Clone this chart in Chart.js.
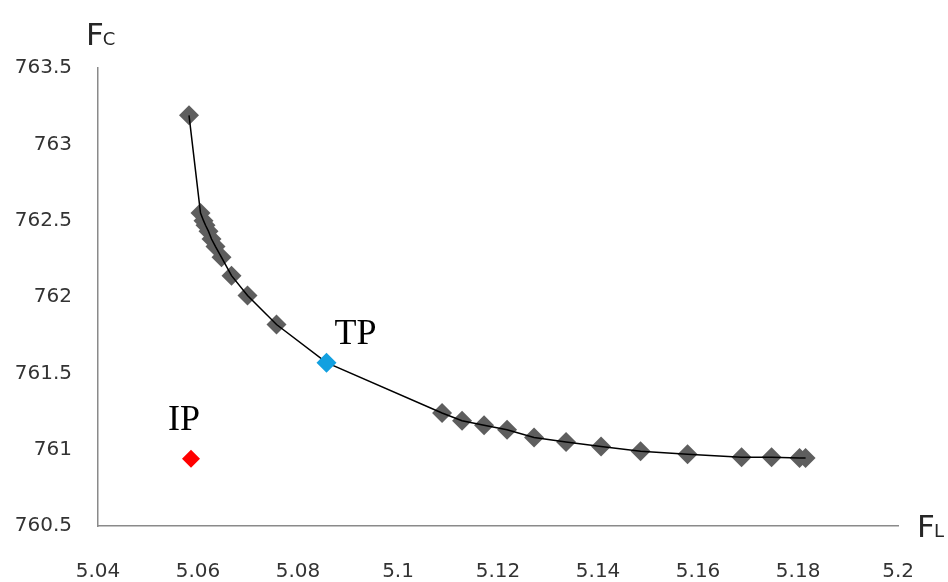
<!DOCTYPE html>
<html>
<head>
<meta charset="utf-8">
<script src="https://cdn.jsdelivr.net/npm/chart.js@4.4.0/dist/chart.umd.min.js"></script>
<style>
html, body { margin: 0; padding: 0; background: #fff; }
#wrap { width: 948px; height: 582px; }
</style>
</head>
<body>
<div id="wrap"><canvas id="chart" width="948" height="582"></canvas></div>
<script>
// Pareto front (F_L, F_C)
const frontL = [5.0582, 5.0605, 5.0611, 5.0615, 5.0621, 5.0627, 5.0635, 5.0647, 5.0667, 5.0699, 5.0757,
                5.1088, 5.1128, 5.1172, 5.1218, 5.1272, 5.1336, 5.1406, 5.1485, 5.1579, 5.1687, 5.1747, 5.1803, 5.1815];
const frontC = [763.19, 762.55, 762.50, 762.47, 762.43, 762.38, 762.33, 762.26, 762.14, 762.01, 761.82,
                761.24, 761.19, 761.16, 761.13, 761.08, 761.05, 761.02, 760.99, 760.97, 760.95, 760.95, 760.945, 760.945];
// trade-off point and ideal point
const tpL = [5.0857];
const tpC = [761.57];
const ipL = [5.0586];
const ipC = [760.94];

const xTicks = [5.04, 5.06, 5.08, 5.1, 5.12, 5.14, 5.16, 5.18, 5.2];
const yTicks = [760.5, 761, 761.5, 762, 762.5, 763, 763.5];

function pts(xs, ys){ return xs.map((x, i) => ({ x, y: ys[i] })); }

// the curve runs through the front and the TP, ordered along F_L
const curve = pts(frontL.concat(tpL), frontC.concat(tpC)).sort((a, b) => a.x - b.x);

function drawName(ctx, big, small, x, y){
    ctx.font = '31px "DejaVu Sans"';
    ctx.fillText(big, x, y);
    const w = ctx.measureText(big).width;
    ctx.font = '18px "DejaVu Sans"';
    ctx.fillText(small, x + w - 1, y);
}

const labels = {
    id: 'labels',
    afterDatasetsDraw(chart){
        const { ctx, chartArea, scales: { x, y } } = chart;
        ctx.save();
        ctx.textBaseline = 'alphabetic';
        ctx.textAlign = 'left';
        ctx.fillStyle = '#000';
        ctx.font = '36px "Liberation Serif"';
        ctx.fillText('TP', x.getPixelForValue(tpL[0]) + 8, y.getPixelForValue(tpC[0]) - 19);
        ctx.fillText('IP', x.getPixelForValue(ipL[0]) - 23, y.getPixelForValue(ipC[0]) - 29);
        ctx.fillStyle = '#262626';
        drawName(ctx, 'F', 'C', chartArea.left - 12, chartArea.top - 23);
        drawName(ctx, 'F', 'L', chartArea.right + 19, chartArea.bottom + 11);
        ctx.restore();
    }
};

const fmt = v => String(Number(v.toFixed(2)));

new Chart(document.getElementById('chart'), {
    type: 'scatter',
    data: {
        datasets: [
            { data: pts(tpL, tpC), pointStyle: 'rectRot', pointRadius: 10, backgroundColor: '#12a0e0', borderWidth: 0 },
            { data: pts(ipL, ipC), pointStyle: 'rectRot', pointRadius: 9, backgroundColor: '#ff0000', borderWidth: 0 },
            { data: curve, showLine: true, pointRadius: 0, borderColor: '#000', borderWidth: 1.5, tension: 0 },
            { data: pts(frontL, frontC), pointStyle: 'rectRot', pointRadius: 10, backgroundColor: '#5e5e5e', borderWidth: 0 }
        ]
    },
    options: {
        responsive: false,
        animation: false,
        devicePixelRatio: 1,
        layout: { padding: { top: 68, right: 48, left: 0, bottom: 0 } },
        plugins: { legend: { display: false }, tooltip: { enabled: false } },
        scales: {
            x: {
                type: 'linear', min: 5.04, max: 5.2,
                afterBuildTicks: s => { s.ticks = xTicks.map(value => ({ value })); },
                afterFit: s => { s.height = 56; },
                grid: { display: false, drawTicks: false },
                border: { display: true, color: '#8a8a8a', width: 1.5 },
                ticks: { padding: 34, color: '#333', font: { family: '"DejaVu Sans"', size: 20 }, callback: fmt, maxRotation: 0, autoSkip: false }
            },
            y: {
                type: 'linear', min: 760.5, max: 763.5,
                afterBuildTicks: s => { s.ticks = yTicks.map(value => ({ value })); },
                afterFit: s => { s.width = 98; },
                grid: { display: false, drawTicks: false },
                border: { display: true, color: '#8a8a8a', width: 1.5 },
                ticks: { padding: 26, color: '#333', font: { family: '"DejaVu Sans"', size: 20 }, callback: fmt, autoSkip: false }
            }
        }
    },
    plugins: [labels]
});
</script>
</body>
</html>
